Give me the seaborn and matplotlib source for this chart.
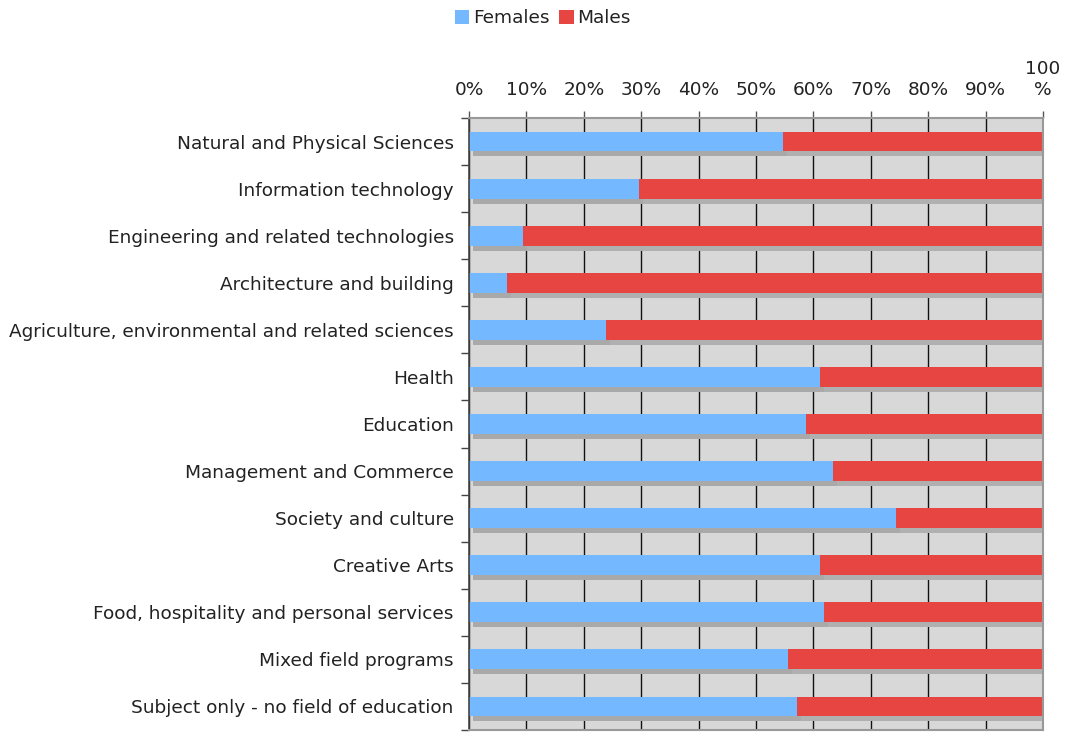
import matplotlib
matplotlib.use("Agg")
import matplotlib.pyplot as plt
import matplotlib.transforms as mtransforms
from matplotlib.patches import Patch
from matplotlib.ticker import FixedLocator
import seaborn as sns
import pandas as pd
import numpy as np

categories = [
    "Natural and Physical Sciences",
    "Information technology",
    "Engineering and related technologies",
    "Architecture and building",
    "Agriculture, environmental and related sciences",
    "Health",
    "Education",
    "Management and Commerce",
    "Society and culture",
    "Creative Arts",
    "Food, hospitality and personal services",
    "Mixed field programs",
    "Subject only - no field of education",
]
females = [54.7, 29.6, 9.4, 6.6, 23.9, 61.1, 58.7, 63.4, 74.4, 61.1, 61.8, 55.6, 57.1]
males = [45.3, 70.4, 90.6, 93.4, 76.1, 38.9, 41.3, 36.6, 25.6, 38.9, 38.2, 44.4, 42.9]
x_tick_labels = ["0%", "10%", "20%", "30%", "40%", "50%", "60%", "70%", "80%", "90%", "100\n%"]

FEM_COLOR = "#74b9ff"
MALE_COLOR = "#e64541"
SHADOW = "#b0b0b0"
BG = "#d8d8d8"
FS = 13.3

df = pd.DataFrame({"category": categories, "Females": females, "Males": males})
df["Total"] = df["Females"] + df["Males"]

sns.set_theme(style="white")
plt.rcParams["font.family"] = ["DejaVu Sans"]

fig = plt.figure(figsize=(10.66, 7.49), dpi=100)
ax = fig.add_axes([469 / 1066, 1 - 730 / 749, (1043 - 469) / 1066, (730 - 118) / 749])
ax.set_facecolor(BG)

bar_w = 0.42
kw = dict(y="category", orient="h", width=bar_w, ax=ax, saturation=1, linewidth=0)

# shadows
n_before = len(ax.patches)
sns.barplot(data=df, x="Total", color=SHADOW, **kw)
sns.barplot(data=df, x="Females", color="#a9a9a9", **kw)
shadow_tr = mtransforms.offset_copy(ax.transData, fig=fig, x=4, y=-5, units="dots")
for p in ax.patches[n_before:]:
    p.set_transform(shadow_tr)

# main bars
sns.barplot(data=df, x="Total", color=MALE_COLOR, **kw)
sns.barplot(data=df, x="Females", color=FEM_COLOR, **kw)

ax.set_xlim(0, 100)
ax.set_ylim(len(categories) - 0.5, -0.5)
ax.set_xlabel("")
ax.set_ylabel("")

# x axis on top
ax.xaxis.tick_top()
ax.xaxis.set_major_locator(FixedLocator(np.arange(0, 101, 10)))
ax.set_xticklabels(x_tick_labels)
ax.tick_params(axis="x", top=True, bottom=False, direction="out", length=5, width=1,
               color="#555555", labelsize=FS, labelcolor="#222222", pad=9)
ax.xaxis.grid(True, color="#111111", linewidth=1)
ax.yaxis.grid(False)
ax.set_axisbelow(True)

# y axis
ax.tick_params(axis="y", which="major", left=False, length=0, labelsize=FS,
               labelcolor="#222222", pad=11)
ax.yaxis.set_minor_locator(FixedLocator(np.arange(-0.5, len(categories), 1.0)))
ax.tick_params(axis="y", which="minor", left=True, direction="out", length=6, width=1,
               color="#444444")

for side in ["top", "right", "bottom"]:
    ax.spines[side].set_visible(True)
    ax.spines[side].set_color("#999999")
    ax.spines[side].set_linewidth(1.5)
ax.spines["left"].set_color("#444444")
ax.spines["left"].set_linewidth(1.2)

handles = [Patch(facecolor=FEM_COLOR, edgecolor="none", label="Females"),
           Patch(facecolor=MALE_COLOR, edgecolor="none", label="Males")]
fig.legend(handles=handles, loc="upper center", bbox_to_anchor=(0.509, 1.01), ncol=2,
           frameon=False, fontsize=FS, handlelength=0.8, handleheight=0.8,
           handletextpad=0.2, columnspacing=0.5, labelcolor="#222222")

fig.savefig("out.png", dpi=100)
